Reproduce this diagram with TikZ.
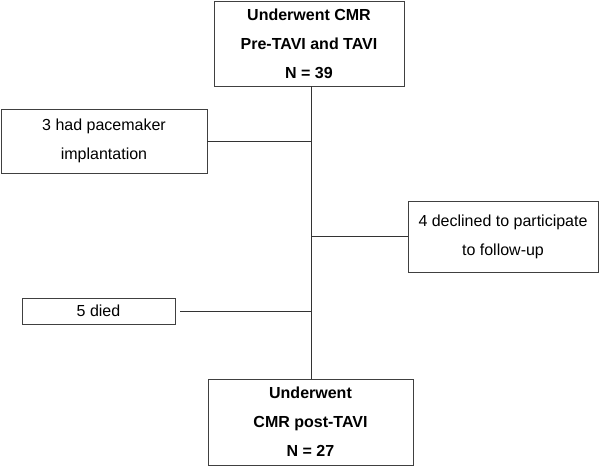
\documentclass[tikz,border=0pt]{standalone}
\usepackage{fontspec}
\setmainfont{Liberation Sans}
\begin{document}
\begin{tikzpicture}[x=1pt,y=-1pt,
  box/.style={draw=black!75, line width=0.9pt, align=center, inner sep=0pt,
    font=\fontsize{16}{29}\selectfont},
  bbox/.style={box, font=\fontsize{16}{29}\selectfont\bfseries},
  conn/.style={draw=black!80, line width=0.9pt}]
\useasboundingbox (0,0) rectangle (600,467);
\node[bbox, minimum width=190pt, minimum height=85pt] (top) at (309,43.5)
  {Underwent CMR\\Pre-TAVI and TAVI\\N = 39};
\node[box, minimum width=206pt, minimum height=64pt] (pace) at (104,141)
  {3 had pacemaker\\implantation};
\node[box, minimum width=190pt, minimum height=71pt] (decl) at (503,236.5)
  {4 declined to participate\\to follow-up};
\node[box, minimum width=153pt, minimum height=26pt] (died) at (98.5,311)
  {5 died};
\node[bbox, minimum width=205pt, minimum height=86pt] (bot) at (310.5,422)
  {Underwent\\CMR post-TAVI\\N = 27};
\coordinate (spine) at (311,0);
\draw[conn] (top.south -| spine) -- (bot.north -| spine);
\draw[conn] (pace.east) -- (pace.east -| spine);
\draw[conn] (decl.west) -- (decl.west -| spine);
\draw[conn] ([xshift=5pt]died.east) -- (died.east -| spine);
\end{tikzpicture}
\end{document}
